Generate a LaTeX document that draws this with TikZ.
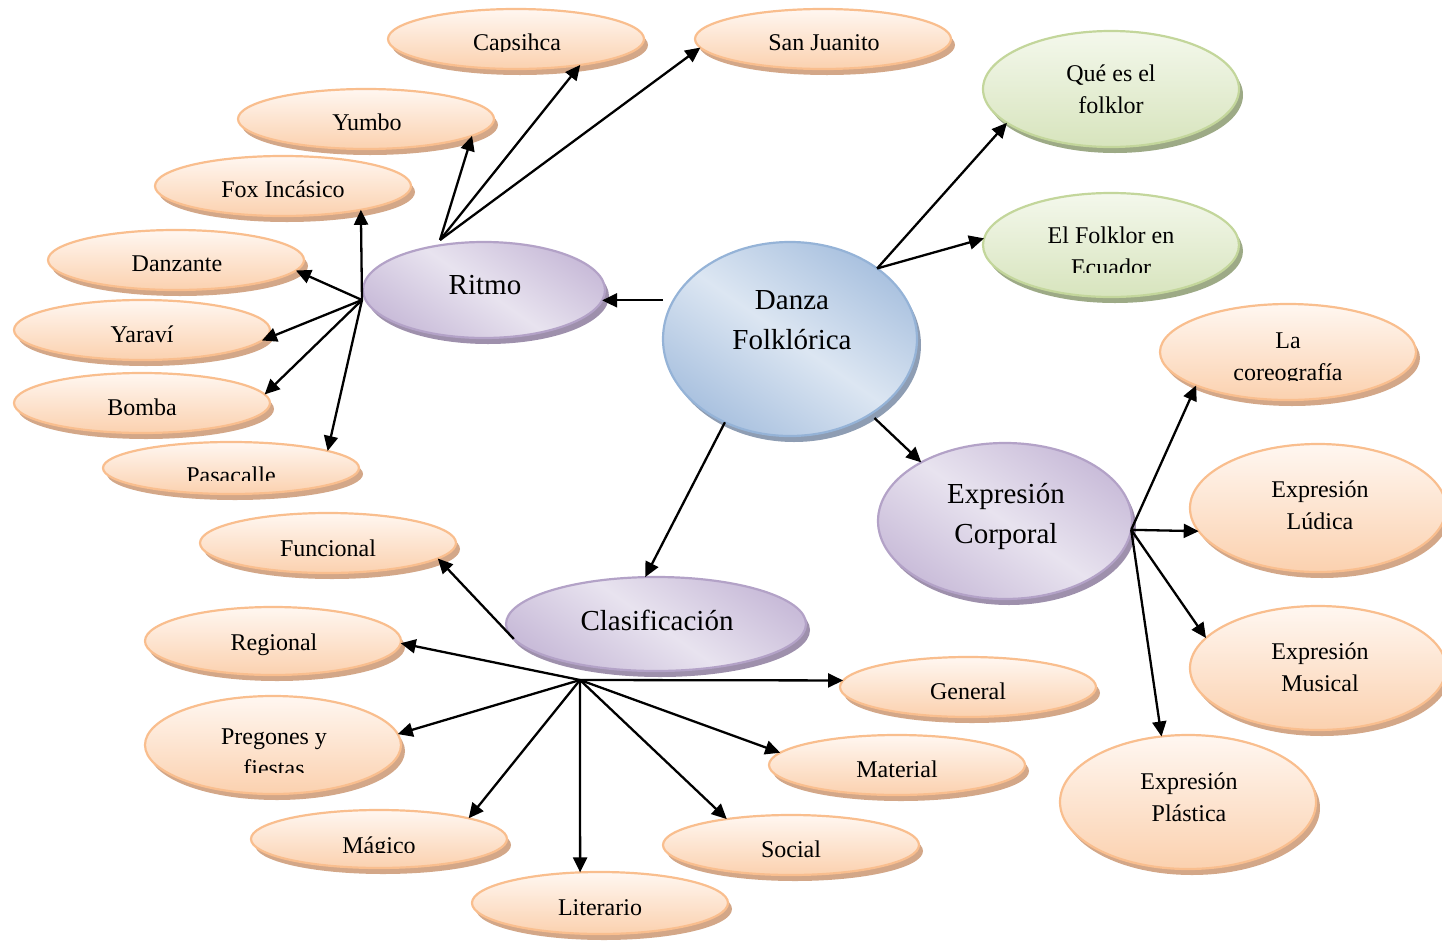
\documentclass[tikz,border=0pt]{standalone}
\usepackage{fontspec}
\setmainfont{Liberation Serif}
\usetikzlibrary{shapes.geometric,arrows.meta,shadows,calc}
\definecolor{obord}{HTML}{F9BE8E}
\definecolor{otop}{HTML}{FFF7F1}
\definecolor{obot}{HTML}{FBD1AF}
\definecolor{oshd}{HTML}{D3A788}
\definecolor{pbord}{HTML}{B3A2C7}
\definecolor{ptop}{HTML}{C9BCD9}
\definecolor{pmid}{HTML}{E8E3EF}
\definecolor{pshd}{HTML}{9E90AC}
\definecolor{bbord}{HTML}{95B3D7}
\definecolor{btop}{HTML}{A9C1DF}
\definecolor{bmid}{HTML}{DCE6F2}
\definecolor{bshd}{HTML}{8E9DB3}
\definecolor{gbord}{HTML}{C3D69B}
\definecolor{gtop}{HTML}{F4F8EC}
\definecolor{gbot}{HTML}{D7E4BD}
\definecolor{gshd}{HTML}{9DAA86}
\tikzset{
  oval/.style 2 args={ellipse, inner sep=0pt, outer sep=0pt, line width=1.1pt, minimum width=#1pt, minimum height=#2pt},
  orangebox/.style={draw=obord, top color=otop, bottom color=obot,
     drop shadow={shadow xshift=2pt, shadow yshift=-3pt, fill=oshd, opacity=1}},
  purplebox/.style={draw=pbord, top color=ptop, bottom color=ptop, middle color=pmid, shading angle=-35,
     drop shadow={shadow xshift=2pt, shadow yshift=-3pt, fill=pshd, opacity=1}},
  bluebox/.style={draw=bbord, top color=btop, bottom color=btop, middle color=bmid, shading angle=-35,
     drop shadow={shadow xshift=2pt, shadow yshift=-3pt, fill=bshd, opacity=1}},
  greenbox/.style={draw=gbord, top color=gtop, bottom color=gbot,
     drop shadow={shadow xshift=2pt, shadow yshift=-3pt, fill=gshd, opacity=1}},
  txt/.style={font=\fontsize{12}{16}\selectfont, inner sep=0pt, text height=0.68em, text depth=0.22em},
  txtm/.style={font=\fontsize{12}{16}\selectfont, inner sep=0pt, align=center},
  big/.style={font=\fontsize{14.5}{20}\selectfont, inner sep=0pt, text height=0.68em, text depth=0.22em},
  bigm/.style={font=\fontsize{14.5}{20}\selectfont, inner sep=0pt, align=center},
  arr/.style={line width=1.15pt, -{Triangle[length=7.5pt,width=7pt]}}
}
\begin{document}
\begin{tikzpicture}[x=0.5pt,y=-0.5pt]
\useasboundingbox (0,0) rectangle (1442,948);
% ---- ellipses
\node[oval={128}{30},orangebox] (capsihca) at (516,39) {};
\node[oval={128}{30},orangebox] (sanjuanito) at (823,39) {};
\node[oval={128}{30},orangebox] (yumbo) at (366,119) {};
\node[oval={128}{30},orangebox] (fox) at (283,186) {};
\node[oval={128}{30},orangebox] (danzante) at (176,260) {};
\node[oval={128}{30},orangebox] (yaravi) at (142,330) {};
\node[oval={128}{30},orangebox] (bomba) at (142,403) {};
\node[oval={128}{26},orangebox] (pasacalle) at (231,468) {};
\node[oval={121}{48},purplebox] (ritmo) at (484,290) {};
\node[oval={127}{97},bluebox] (danza) at (790,339) {};
\node[oval={128}{58},greenbox] (que) at (1111,89) {};
\node[oval={128}{52},greenbox] (elfolklor) at (1111,245) {};
\node[oval={128}{48},orangebox] (coreo) at (1288,352) {};
\node[oval={127}{78},purplebox] (ec) at (1005,521) {};
\node[oval={128}{64},orangebox] (ludica) at (1318,508) {};
\node[oval={128}{62},orangebox] (musical) at (1318,668) {};
\node[oval={128}{67},orangebox] (plastica) at (1188,802) {};
\node[oval={128}{30},orangebox] (funcional) at (328,543) {};
\node[oval={150}{47},purplebox] (clasif) at (656,624) {};
\node[oval={128}{34},orangebox] (regional) at (273,641) {};
\node[oval={128}{49},orangebox] (pregones) at (273,745) {};
\node[oval={128}{29},orangebox] (magico) at (379,839) {};
\node[oval={128}{31},orangebox] (literario) at (600,903) {};
\node[oval={128}{30},orangebox] (social) at (791,845) {};
\node[oval={128}{30},orangebox] (material) at (897,765) {};
\node[oval={128}{30},orangebox] (general) at (968,687) {};
% ---- texts
\begin{scope}\clip (0,0) rectangle (1442,51);
\node[txt] (tcapsihca) at (517,46) {Capsihca};
\end{scope}
\node[txt] (tsanjuanito) at (824,46) {San Juanito};
\node[txt] (tyumbo) at (367,126) {Yumbo};
\node[txt] (tfox) at (283,193) {Fox Incásico};
\node[txt] (tdanzante) at (177,267) {Danzante};
\node[txt] (tyaravi) at (142,338) {Yaraví};
\node[txt] (tbomba) at (142,411) {Bomba};
\begin{scope}\clip (0,0) rectangle (1442,480);
\node[txt] (tpasacalle) at (231,479) {Pasacalle};
\end{scope}
\node[big] (tritmo) at (485,290) {Ritmo};
\node[bigm] (tdanza) at (792,320) {Danza\\Folklórica};
\node[txtm] (tque) at (1111,89) {Qué es el\\folklor};
\begin{scope}\clip (0,0) rectangle (1442,272);
\node[txtm] (telfolklor) at (1111,251) {El Folklor en\\Ecuador};
\end{scope}
\begin{scope}\clip (0,0) rectangle (1442,380);
\node[txtm] (tcoreo) at (1288,359) {La\\coreografía};
\end{scope}
\node[bigm] (tec) at (1006,516) {Expresión\\Corporal};
\node[txtm] (tludica) at (1320,505) {Expresión\\Lúdica};
\node[txtm] (tmusical) at (1320,667) {Expresión\\Musical};
\node[txtm] (tplastica) at (1189,797) {Expresión\\Plástica};
\node[txt] (tfuncional) at (328,552) {Funcional};
\node[big] (tclasif) at (657,626) {Clasificación};
\node[txt] (tregional) at (274,646) {Regional};
\begin{scope}\clip (0,0) rectangle (1442,772);
\node[txtm] (tpregones) at (274,753) {Pregones y\\fiestas};
\end{scope}
\begin{scope}\clip (0,0) rectangle (1442,852);
\node[txt] (tmagico) at (379,849) {Mágico};
\end{scope}
\node[txt] (tliterario) at (600,911) {Literario};
\node[txt] (tsocial) at (791,853) {Social};
\node[txt] (tmaterial) at (897,773) {Material};
\node[txt] (tgeneral) at (968,695) {General};
% ---- hubs
\coordinate (hubA) at (440,240);
\coordinate (hubB) at (362,300);
\coordinate (hubC) at (danza.39);
\coordinate (hubD) at (ec.-4);
\coordinate (hubE) at (580,680);
% ---- connectors
\draw[arr] (hubA) -- (capsihca.-22);
\draw[arr] (hubA) -- (sanjuanito.184);
\draw[arr] (hubA) -- (yumbo.-9);
\draw[arr] (hubB) -- (fox.-17);
\draw[arr] (hubB) -- (danzante.-5);
\draw[arr] (hubB) -- (yaravi.-5);
\draw[arr] (hubB) -- (bomba.4);
\draw[arr] (hubB) -- (pasacalle.10);
\draw[arr] (ritmo.-5 -| danza.west) -- (ritmo.-5);
\draw[arr] (hubC) -- (que.198);
\draw[arr] (hubC) -- (elfolklor.177);
\draw[arr] (danza.-43) ++(4,4) -- (ec.145);
\draw[arr] (danza.-128) -- (clasif.103);
\draw[arr] (hubD) -- (coreo.200);
\draw[arr] (hubD) -- (ludica.191);
\draw[arr] (hubD) -- (musical.165);
\draw[arr] (hubD) -- (plastica.112);
\draw[arr] (clasif.186) -- (funcional.-8);
\draw[arr] (hubE) -- (regional.-1);
\draw[arr] (hubE) -- (general.177);
\draw[arr] (hubE) -- (pregones.5);
\draw[arr] (hubE) -- (material.174);
\draw[arr] (hubE) -- (magico.13);
\draw[arr] (hubE) -- (social.158);
\draw[arr] (hubE) -- (literario.123);
\end{tikzpicture}
\end{document}
